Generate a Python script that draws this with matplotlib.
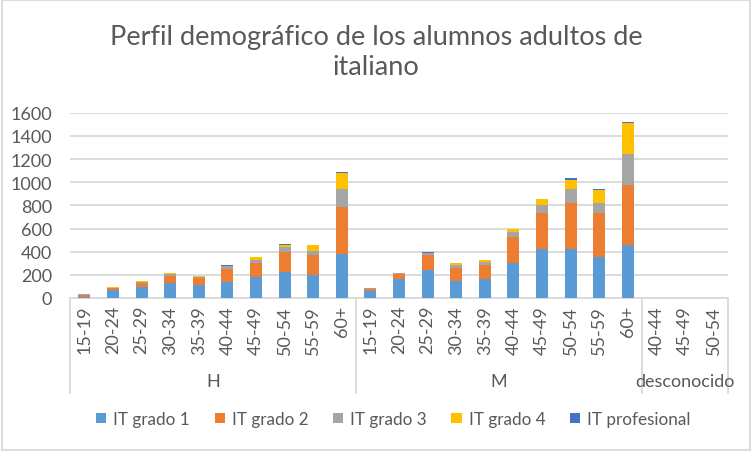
import matplotlib.pyplot as plt
import numpy as np

plt.rcParams['font.family'] = ['Lato', 'DejaVu Sans']

# categories (two levels: group / age)
groups = ["H", "M", "desconocido"]
ages_h = ["15-19", "20-24", "25-29", "30-34", "35-39", "40-44", "45-49", "50-54", "55-59", "60+"]
ages_m = ["15-19", "20-24", "25-29", "30-34", "35-39", "40-44", "45-49", "50-54", "55-59", "60+"]
ages_d = ["40-44", "45-49", "50-54"]
labels = ages_h + ages_m + ages_d

# values (H 10 bars, M 10 bars, desconocido 3 bars)
grado1 = [5, 72, 95, 130, 113, 142, 182, 228, 199, 384,
          61, 165, 246, 147, 165, 303, 425, 425, 350, 460,
          0, 0, 0]
grado2 = [18, 15, 38, 61, 63, 109, 121, 171, 168, 405,
          17, 43, 121, 116, 121, 226, 312, 393, 381, 520,
          0, 0, 0]
grado3 = [8, 3, 9, 20, 9, 21, 26, 43, 40, 156,
          9, 9, 20, 23, 29, 43, 69, 121, 93, 260,
          0, 0, 0]
grado4 = [0, 5, 5, 2, 9, 8, 26, 18, 47, 133,
          0, 0, 3, 17, 9, 26, 52, 84, 112, 269,
          0, 0, 0]
profesional = [0, 0, 0, 4, 0, 3, 3, 2, 5, 9,
               0, 0, 9, 0, 5, 0, 0, 9, 9, 8,
               0, 0, 0]

series = [
    ("IT grado 1", grado1, "#5B9BD5"),
    ("IT grado 2", grado2, "#ED7D31"),
    ("IT grado 3", grado3, "#A5A5A5"),
    ("IT grado 4", grado4, "#FFC000"),
    ("IT profesional", profesional, "#4472C4"),
]

text_col = "#595959"
grid_col = "#D9D9D9"
fs = 13

fig = plt.figure(figsize=(7.52, 4.52), dpi=100)
ax = fig.add_axes([70 / 752, 1 - 299 / 452, (728 - 70) / 752, (299 - 113.7) / 452])

x = np.arange(len(labels))
bottom = np.zeros(len(labels))
for name, vals, col in series:
    ax.bar(x, vals, width=0.42, bottom=bottom, color=col, label=name, zorder=3)
    bottom += np.array(vals)

ax.set_xlim(-0.5, len(labels) - 0.5)
ax.set_ylim(0, 1600)
ax.set_yticks(range(0, 1601, 200))
ax.yaxis.grid(True, color=grid_col, linewidth=1.3, zorder=0)
ax.tick_params(axis="y", length=0, labelsize=fs, labelcolor=text_col, pad=13)

ax.set_xticks(x)
ax.set_xticklabels(labels, rotation=90, fontsize=fs, color=text_col)
ax.tick_params(axis="x", length=0, pad=5)

for s in ["top", "right", "left"]:
    ax.spines[s].set_visible(False)
ax.spines["bottom"].set_color(grid_col)
ax.spines["bottom"].set_linewidth(1.3)

# group separators and labels below the axis
trans = ax.get_xaxis_transform()
sizes = [len(ages_h), len(ages_m), len(ages_d)]
start = 0
bounds = [-0.5]
for g, n in zip(groups, sizes):
    mid = start + (n - 1) / 2
    ax.text(mid, -0.45, g, transform=trans, ha="center", va="center",
            fontsize=fs, color=text_col)
    start += n
    bounds.append(start - 0.5)
for b in bounds:
    ax.plot([b, b], [0, -0.51], transform=trans, color=grid_col,
            linewidth=1.3, clip_on=False)

fig.suptitle("Perfil demográfico de los alumnos adultos de\nitaliano",
             y=0.945, fontsize=19.5, color=text_col, linespacing=1.25)

fig.legend(loc="center", bbox_to_anchor=(0.523, 1 - 420 / 452), ncol=5,
           frameon=False, fontsize=12.3, labelcolor=text_col,
           handlelength=0.6, handleheight=0.6, handletextpad=0.4,
           columnspacing=1.45)

# light border around the whole chart
fig.patches.append(plt.Rectangle((0.002, 0.003), 0.995, 0.994, transform=fig.transFigure,
                                 fill=False, edgecolor=grid_col, linewidth=1.3))

fig.savefig("out.png", dpi=100)
